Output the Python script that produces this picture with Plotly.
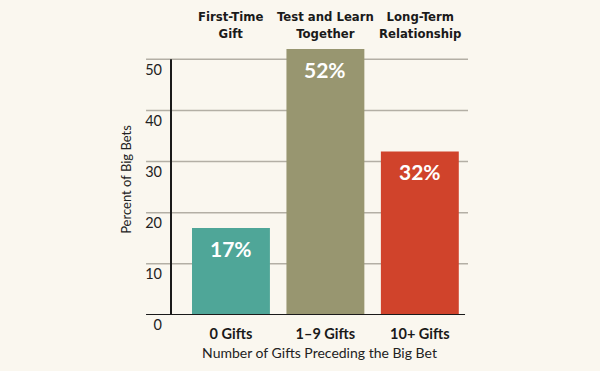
import plotly.graph_objects as go

categories = ["0 Gifts", "1\u20139 Gifts", "10+ Gifts"]
values = [17, 52, 32]
headers = ["First-Time<br>Gift", "Test and Learn<br>Together", "Long-Term<br>Relationship"]
colors = ["#4fa698", "#989670", "#d0432b"]
y_ticks = [0, 10, 20, 30, 40, 50]

BG = "#faf7ef"
FONT = "Lato, 'Open Sans', sans-serif"
COND = "'DejaVu Sans Condensed', 'Liberation Sans Narrow', 'Roboto', sans-serif"

fig = go.Figure()
fig.add_trace(go.Bar(
    x=categories, y=values, marker=dict(color=colors, line=dict(width=0)),
    hoverinfo="skip", width=0.825,
))

# value labels inside the bars
for c, v in zip(categories, values):
    fig.add_annotation(x=c, y=v, xref="x", yref="y", text=f"{v}%", showarrow=False,
                       yanchor="top", yshift=-6,
                       font=dict(family=FONT, size=21, color="white", weight=700))

# headers above the bars
for c, h in zip(categories, headers):
    fig.add_annotation(x=c, y=1.0, xref="x", yref="paper", text=f"<b>{h}</b>", showarrow=False,
                       yanchor="bottom", yshift=1,
                       font=dict(family=COND, size=13, color="#1a1a1a"))

# gridlines
for t in y_ticks[1:]:
    fig.add_shape(type="line", xref="x domain", yref="y", x0=-0.084, x1=1, y0=t, y1=t,
                  line=dict(color="#b3afa5", width=1.5), layer="below")
# baseline
fig.add_shape(type="line", xref="x domain", yref="y", x0=-0.084, x1=0.99, y0=0, y1=0,
              line=dict(color="#1a1a1a", width=2))
# y-axis line
fig.add_shape(type="line", xref="x domain", yref="y", x0=0, x1=0, y0=0, y1=max(y_ticks),
              line=dict(color="#1a1a1a", width=2))

fig.update_layout(
    width=600, height=371, paper_bgcolor=BG, plot_bgcolor=BG,
    margin=dict(l=171, r=132, t=44, b=56, autoexpand=False),
    showlegend=False,
    font=dict(family=FONT, color="#222"),
    xaxis=dict(range=[-0.635, 2.51], showgrid=False, zeroline=False, showline=False,
               automargin=False,
               tickvals=categories, ticktext=[f"<b>{c}</b>" for c in categories],
               tickfont=dict(size=14.5, color="#1a1a1a"), ticks="", ticklabelstandoff=8,
               title=dict(text="Number of Gifts Preceding the Big Bet", standoff=7,
                          font=dict(size=14, color="#222"))),
    yaxis=dict(range=[0, 53], showgrid=False, zeroline=False, showline=False,
               automargin=False,
               tickvals=y_ticks, ticks="", ticklabelposition="outside bottom",
               ticklabelstandoff=8,
               tickfont=dict(size=14.5, color="#222"),
               title=dict(text="Percent of Big Bets", standoff=10, font=dict(size=13, color="#222"))),
)

fig.write_html("out.html", config={"displayModeBar": False},
               post_script=f"document.body.style.margin='0';document.body.style.background='{BG}';")
